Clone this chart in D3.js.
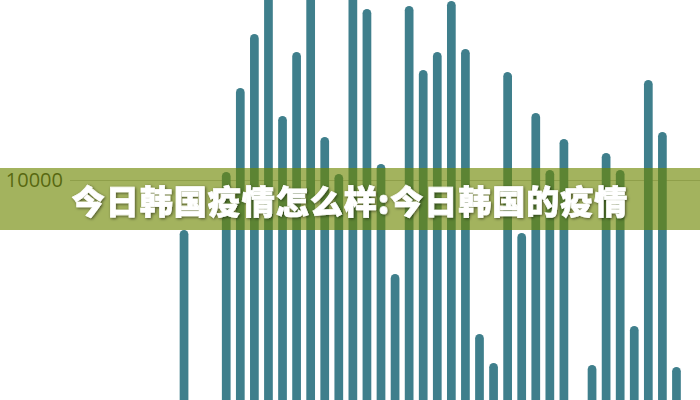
<!DOCTYPE html>
<html>
<head>
<meta charset="utf-8">
<script src="https://cdn.jsdelivr.net/npm/d3@7/dist/d3.min.js"></script>
<style>
  html, body { margin: 0; padding: 0; background: #fff; }
  svg { display: block; }
</style>
</head>
<body>
<svg id="chart" width="700" height="400"></svg>
<script>
// ---- data ----
const categories = d3.range(1, 37).map(d => String(d));
const values = [
  7920, 600, 400, 10330, 13830, 16080, 18130, 12670, 15330, 17830,
  11790, 10250, 18330, 17130, 10670, 6080, 17250, 14580, 15330, 17460,
  15460, 3580, 2380, 14500, 7790, 12790, 10420, 11710, 500, 2290,
  11130, 10420, 3920, 14170, 12000, 2210
];
const tickValues = [10000];
const titleText = "今日韩国疫情怎么样:今日韩国的疫情";

// ---- layout ----
const W = 700, H = 400;
const svg = d3.select("#chart");

const x = d3.scaleBand()
  .domain(categories)
  .range([177, 683.5])
  .paddingInner(0.38)
  .paddingOuter(0.19);

const y = d3.scaleLinear()
  .domain([0, 20000])
  .range([420, -60]);

// gridline + label
const axisX = 70;
const yAxis = d3.axisLeft(y)
  .tickValues(tickValues)
  .tickSize(-(W - axisX))
  .tickPadding(7)
  .tickFormat(d3.format("d"));

const gAxis = svg.append("g")
  .attr("transform", `translate(${axisX},0)`)
  .call(yAxis);
gAxis.select(".domain").remove();
gAxis.selectAll(".tick line").attr("stroke", "#c8c8c8").attr("stroke-width", 1.2);
gAxis.selectAll(".tick text")
  .attr("fill", "#333")
  .attr("font-family", "'Open Sans', 'Liberation Sans', sans-serif")
  .attr("font-size", 20)
  .attr("font-weight", 400);

// bars
const bw = x.bandwidth();
svg.append("g")
  .selectAll("rect")
  .data(values)
  .join("rect")
  .attr("x", (d, i) => x(categories[i]))
  .attr("y", d => y(d))
  .attr("width", bw)
  .attr("height", d => Math.max(0, y(0) - y(d) + bw))
  .attr("rx", bw / 2)
  .attr("ry", bw / 2)
  .attr("fill", "#3f7f8c");

// banner
svg.append("rect")
  .attr("x", 0).attr("y", 168)
  .attr("width", W).attr("height", 62)
  .attr("fill", "rgb(110,135,0)")
  .attr("fill-opacity", 0.63);

// shadow filter
const defs = svg.append("defs");
const f = defs.append("filter").attr("id", "shadow")
  .attr("x", "-10%").attr("y", "-40%").attr("width", "120%").attr("height", "180%");
f.append("feDropShadow")
  .attr("dx", 1).attr("dy", 1)
  .attr("stdDeviation", 1.5)
  .attr("flood-color", "#000")
  .attr("flood-opacity", 0.55);

// title
svg.append("text")
  .attr("x", W / 2)
  .attr("y", 200)
  .attr("text-anchor", "middle")
  .attr("dominant-baseline", "central")
  .attr("font-family", "'Noto Sans CJK SC', sans-serif")
  .attr("font-weight", 900)
  .attr("font-size", 33)
  .attr("letter-spacing", 1)
  .attr("fill", "#fff")
  .attr("stroke", "#fff")
  .attr("stroke-width", 0.7)
  .attr("filter", "url(#shadow)")
  .text(titleText);
</script>
</body>
</html>
